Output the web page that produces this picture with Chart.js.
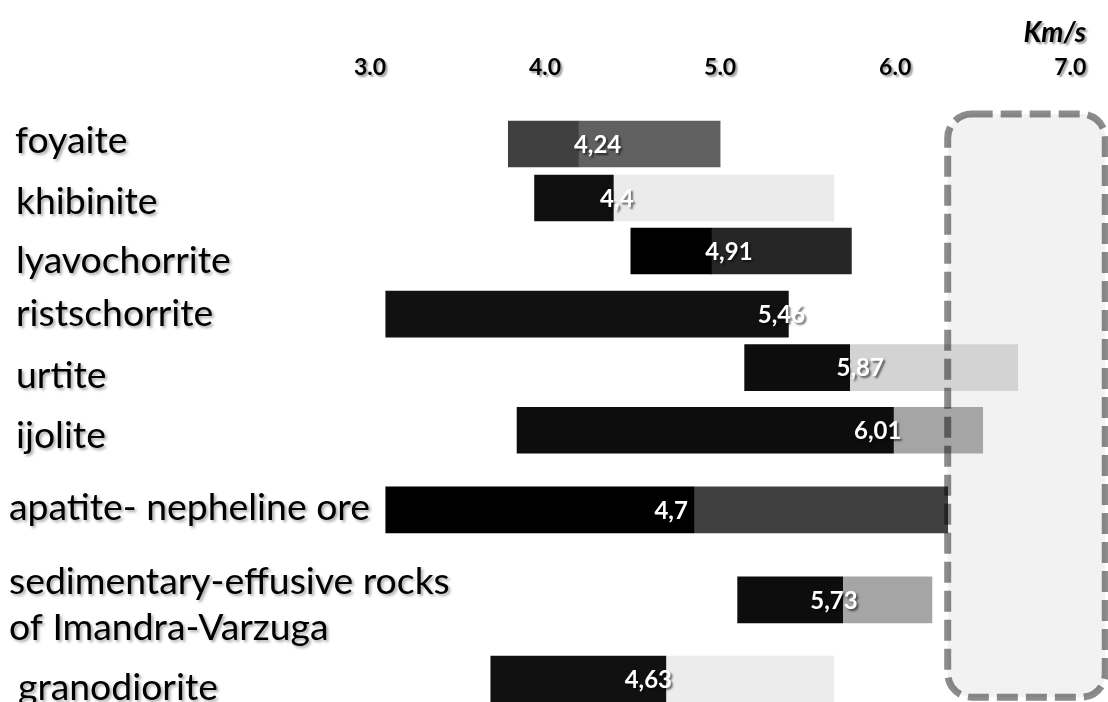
<!DOCTYPE html>
<html><head><meta charset="utf-8">
<script src="https://cdn.jsdelivr.net/npm/chart.js@4.4.0/dist/chart.umd.min.js"></script>
<style>html,body{margin:0;padding:0;background:#fff;} #wrap{width:1108px;height:702px;position:relative;}</style>
</head><body><div id="wrap"><canvas id="c"></canvas></div>
<script>
// ---- data (km/s) ----
const rocks = ['foyaite','khibinite','lyavochorrite','ristschorrite','urtite','ijolite','apatite- nepheline ore',['sedimentary-effusive rocks','of Imandra-Varzuga'],'granodiorite'];
const vMin   = [3.79, 3.94, 4.49, 3.09, 5.14, 3.84, 3.09, 5.10, 3.69];
const vSplit = [4.19, 4.39, 4.95, 5.39, 5.74, 5.99, 4.85, 5.70, 4.69];
const vMax   = [5.00, 5.65, 5.75, 5.39, 6.70, 6.50, 6.30, 6.21, 5.65];
const meanLabels  = ['4,24','4,4','4,91','5,46','5,87','6,01','4,7','5,73','4,63'];
const meanLabelAt = [4.30, 4.41, 5.05, 5.35, 5.80, 5.90, 4.72, 5.65, 4.59];
const xTicks = [3, 4, 5, 6, 7];
const unitLabel = 'Km/s';

// ---- layout / style ----
const rowSlot = [0, 1.01, 2.0, 3.18, 4.18, 5.35, 6.84, 8.52, 10.0];
const nameBaselineSlot = [0.17, 1.31, 2.41, 3.40, 4.56, 5.68, 7.03, 8.41, 10.39];
const nameIndent = [15, 16, 16, 16, 16, 16, 9, 9, 18];
const darkColors  = ['#404040','#0f0f0f','#000000','#111111','#0d0d0d','#0d0d0d','#000000','#0d0d0d','#111111'];
const lightColors = ['#606060','#ebebeb','#262626',null,'#d3d3d3','#a5a5a5','#404040','#a5a5a5','#ececec'];
const box = {x0: 6.30, x1: 7.20, y0: -0.56, y1: 10.34, r: 24};

const darkData = rocks.map((r, i) => ({y: rowSlot[i], x: [vMin[i], vSplit[i]]}));
const lightIdx = rocks.map((r, i) => i).filter(i => vMax[i] > vSplit[i]);
const lightData = lightIdx.map(i => ({y: rowSlot[i], x: [vSplit[i], vMax[i]]}));

function roundRectPath(c, x0, y0, x1, y1, r) {
  c.beginPath();
  c.moveTo(x0 + r, y0);
  c.lineTo(x1 - r, y0); c.arcTo(x1, y0, x1, y0 + r, r);
  c.lineTo(x1, y1 - r); c.arcTo(x1, y1, x1 - r, y1, r);
  c.lineTo(x0 + r, y1); c.arcTo(x0, y1, x0, y1 - r, r);
  c.lineTo(x0, y0 + r); c.arcTo(x0, y0, x0 + r, y0, r);
  c.closePath();
}

const deco = {
  id: 'deco',
  beforeDraw(chart) {
    const c = chart.ctx; c.save();
    c.shadowColor = 'rgba(0,0,0,0.4)'; c.shadowOffsetX = 2; c.shadowOffsetY = 2; c.shadowBlur = 2;
  },
  beforeDatasetsDraw(chart) {
    const c = chart.ctx; c.restore();
    const {x, y} = chart.scales;
    c.save();
    roundRectPath(c, x.getPixelForValue(box.x0), y.getPixelForValue(box.y0), x.getPixelForValue(box.x1), y.getPixelForValue(box.y1), box.r);
    c.fillStyle = '#f2f2f2'; c.fill();
    c.restore();
  },
  afterDatasetsDraw(chart) {
    const c = chart.ctx; const {x, y} = chart.scales;
    c.save();
    roundRectPath(c, x.getPixelForValue(box.x0), y.getPixelForValue(box.y0), x.getPixelForValue(box.x1), y.getPixelForValue(box.y1), box.r);
    c.setLineDash([21, 8]); c.lineWidth = 7; c.strokeStyle = 'rgba(0,0,0,0.45)'; c.stroke();
    c.restore();

    // value labels
    c.save();
    c.shadowColor = 'rgba(0,0,0,0.55)'; c.shadowOffsetX = 2; c.shadowOffsetY = 2; c.shadowBlur = 2;
    c.font = 'bold 24px Lato'; c.fillStyle = '#ffffff'; c.textAlign = 'center'; c.textBaseline = 'middle';
    meanLabels.forEach((t, i) => c.fillText(t, x.getPixelForValue(meanLabelAt[i]), y.getPixelForValue(rowSlot[i]) + 1));
    c.restore();

    // category names
    c.save();
    c.font = '100px Lato';
    const w = c.measureText('apatite- nepheline ore').width;
    const fs = 100 * 361 / w;
    c.font = fs + 'px Lato';
    c.shadowColor = 'rgba(0,0,0,0.35)'; c.shadowOffsetX = 2; c.shadowOffsetY = 2; c.shadowBlur = 3;
    c.fillStyle = '#000'; c.textAlign = 'left'; c.textBaseline = 'alphabetic';
    rocks.forEach((r, i) => {
      const lines = Array.isArray(r) ? r : [r];
      const base = y.getPixelForValue(nameBaselineSlot[i]);
      lines.forEach((ln, k) => c.fillText(ln, nameIndent[i], base + k * fs * 1.24));
    });
    c.restore();
  }
};

new Chart(document.getElementById('c'), {
  type: 'bar',
  data: {
    datasets: [
      {data: darkData, backgroundColor: darkColors, barThickness: 46, grouped: false, borderWidth: 0},
      {data: lightData, backgroundColor: lightIdx.map(i => lightColors[i]), barThickness: 46, grouped: false, borderWidth: 0}
    ]
  },
  options: {
    indexAxis: 'y',
    responsive: true, maintainAspectRatio: false, animation: false,
    layout: {padding: {left: 370, right: 22, top: 0, bottom: 0}},
    plugins: {legend: {display: false}, tooltip: {enabled: false}},
    scales: {
      x: {
        type: 'linear', position: 'top', min: 3, max: 7.09,
        grid: {display: false, drawTicks: false}, border: {display: false},
        afterBuildTicks: s => { s.ticks = xTicks.map(v => ({value: v})); },
        afterFit: s => { s.height = 85; },
        ticks: {padding: 4, color: '#000', font: {family: 'Lato', weight: 'bold', size: 23}, callback: v => Number(v).toFixed(1), maxRotation: 0},
        title: {display: true, text: unitLabel, align: 'end', color: '#000', padding: {top: 16, bottom: 0}, font: {family: 'Lato', weight: 'bold', style: 'italic', size: 28}}
      },
      y: {type: 'linear', reverse: true, min: -1.103, max: 10.43, display: false, offset: false, grid: {offset: false}}
    }
  },
  plugins: [deco]
});
</script></body></html>
